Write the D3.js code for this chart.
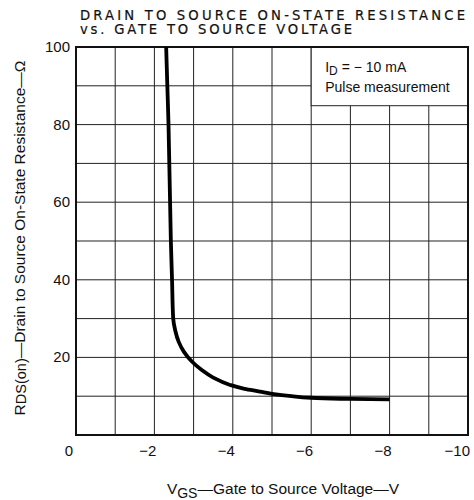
<!DOCTYPE html>
<html><head><meta charset="utf-8">
<script src="https://cdn.jsdelivr.net/npm/d3@7"></script>
<style>body{margin:0;background:#fff}svg{display:block}text{font-family:"Liberation Sans",Arial,sans-serif;fill:#111}</style>
</head><body>
<script>
const vgs = [-2.30,-2.33,-2.36,-2.38,-2.40,-2.42,-2.45,-2.48,-2.53,-2.62,-2.75,-2.95,-3.2,-3.5,-3.93,-4.3,-4.69,-5.0,-5.5,-6.0,-7.0,-8.0];
const rds = [100,90,80,70,60,50,40,30,27,24,21.5,19,16.8,14.8,12.9,11.9,11.2,10.6,10.0,9.6,9.3,9.2];
const xTicks = [0,-2,-4,-6,-8,-10];
const yTicks = [20,40,60,80,100];
const titleLines = ["DRAIN TO SOURCE ON-STATE RESISTANCE","vs. GATE TO SOURCE VOLTAGE"];

const W=474,H=500;
const svg=d3.select("body").append("svg").attr("width",W).attr("height",H);
const L=76,R=468,T=47,B=435;
const x=d3.scaleLinear().domain([0,-10]).range([L,R]);
const y=d3.scaleLinear().domain([0,100]).range([B,T]);

// grid
const g=svg.append("g");
g.selectAll("line.v").data(d3.range(-1,-10,-1)).join("line")
 .attr("x1",d=>x(d)).attr("x2",d=>x(d)).attr("y1",T).attr("y2",B)
 .attr("stroke","#222").attr("stroke-width",1);
g.selectAll("line.h").data(d3.range(10,100,10)).join("line")
 .attr("y1",d=>y(d)).attr("y2",d=>y(d)).attr("x1",L).attr("x2",R)
 .attr("stroke","#222").attr("stroke-width",1);

// legend box
svg.append("rect").attr("x",x(-6)).attr("y",T).attr("width",R-x(-6)).attr("height",y(85)-T+0.5)
 .attr("fill","#fff").attr("stroke","#222").attr("stroke-width",1);
const lt=svg.append("text").attr("x",x(-6)+14).attr("y",T+25).attr("font-size",14);
lt.append("tspan").text("I");
lt.append("tspan").attr("font-size",12).attr("dy",3).text("D");
lt.append("tspan").attr("dy",-3).text(" = \u2212 10 mA");
svg.append("text").attr("x",x(-6)+14).attr("y",T+45).attr("font-size",14).text("Pulse measurement");

// border
svg.append("rect").attr("x",L).attr("y",T).attr("width",R-L).attr("height",B-T)
 .attr("fill","none").attr("stroke","#111").attr("stroke-width",2);

// curve
svg.append("path").datum(vgs.map((v,i)=>[v,rds[i]]))
 .attr("d",d3.line().x(d=>x(d[0])).y(d=>y(d[1])).curve(d3.curveMonotoneY))
 .attr("fill","none").attr("stroke","#000").attr("stroke-width",3.8).attr("stroke-linecap","butt");

// x tick labels
svg.selectAll("text.xt").data(xTicks).join("text")
 .attr("x",d=>d===0?73:x(d)+2).attr("y",456).attr("text-anchor","end").attr("font-size",15)
 .text(d=>d===0?"0":"\u2212"+Math.abs(d));
// y tick labels
svg.selectAll("text.yt").data(yTicks).join("text")
 .attr("x",70).attr("y",d=>y(d)+5).attr("text-anchor","end").attr("font-size",15)
 .text(d=>d);

// title
titleLines.forEach((t,i)=>{
  svg.append("text").attr("x",80).attr("y",19.5+i*14.8).attr("font-size",13.2)
   .style("font-family","'DejaVu Sans',sans-serif")
   .attr("stroke","#111").attr("stroke-width",0.2)
   .attr("textLength",i===0?385:272).attr("lengthAdjust","spacing").text(t);
});

// x axis label
const xl=svg.append("text").attr("x",283).attr("y",494).attr("text-anchor","middle").attr("font-size",15.5);
xl.append("tspan").text("V");
xl.append("tspan").attr("font-size",14).attr("dy",4).text("GS");
xl.append("tspan").attr("dy",-4).text("\u2014Gate to Source Voltage\u2014V");

// y axis label
const yl=svg.append("text").attr("transform","translate(25,238) rotate(-90)").attr("text-anchor","middle").attr("font-size",15.5);
yl.append("tspan").text("R");
yl.append("tspan").attr("font-size",14.5).attr("dy",1).text("DS(on)");
yl.append("tspan").attr("dy",-1).text("\u2014Drain to Source On-State Resistance\u2014\u03A9");
</script>
</body></html>
